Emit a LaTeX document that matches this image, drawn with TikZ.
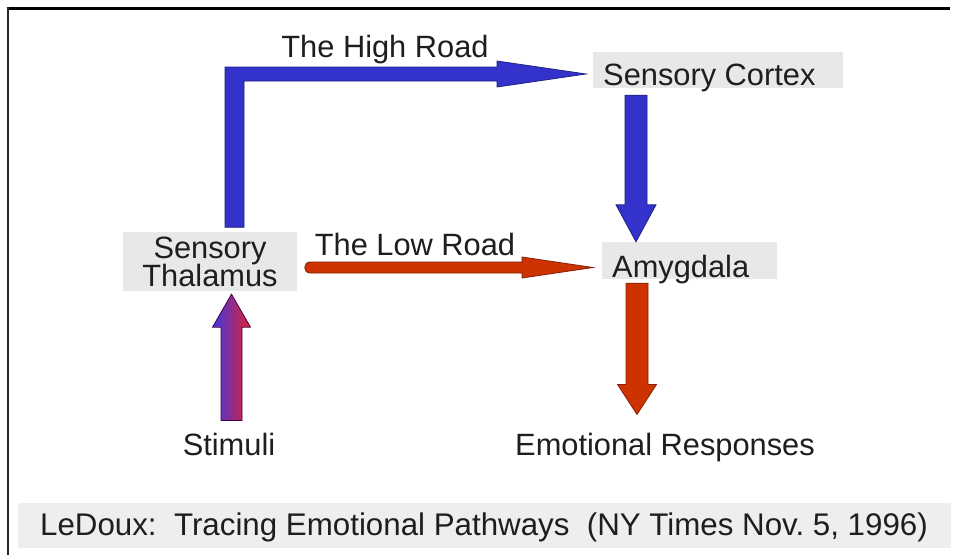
\documentclass[tikz,border=0pt]{standalone}
\usepackage{fontspec}
\setmainfont{Liberation Sans}
\usetikzlibrary{calc}

\definecolor{roadblue}{HTML}{3333CC}
\definecolor{roadred}{HTML}{CC3300}
\definecolor{boxgrey}{HTML}{E8E8E8}
\definecolor{footgrey}{HTML}{EEEEEE}
\definecolor{ink}{HTML}{1E1E1E}
\definecolor{stimblue}{HTML}{3A3AE6}
\definecolor{stimred}{HTML}{E6202E}

% Block arrow: #1 style, #2 tail, #3 tip, #4 shaft half-width, #5 head half-width, #6 head length
\newcommand\fatarrow[6]{%
  \coordinate (fa-hb) at ($(#3)!#6!(#2)$);
  \path[#1] ($(#2)!#4!90:(#3)$) -- ($(fa-hb)!#4!-90:(#2)$) -- ($(fa-hb)!#5!-90:(#2)$)
    -- (#3) -- ($(fa-hb)!#5!90:(#2)$) -- ($(fa-hb)!#4!90:(#2)$) -- ($(#2)!#4!-90:(#3)$) -- cycle;
}

\tikzset{
  lbl/.style={font=\fontsize{30.8}{36}\selectfont, text=ink, inner sep=0pt},
  greybox/.style={fill=boxgrey},
  bluearrow/.style={fill=roadblue, draw=roadblue!65!black, line width=0.8pt, line join=miter},
  redarrow/.style={fill=roadred, draw=roadred!65!black, line width=0.8pt, line join=miter},
  stimarrow/.style={left color=stimblue, right color=stimred, draw=black!45!violet, line width=0.8pt, line join=miter}
}

\begin{document}
\begin{tikzpicture}[x=1pt, y=-1pt]
  \useasboundingbox (0,0) rectangle (955,555);
  \fill[white] (0,0) rectangle (955,555);

  % frame edges
  \draw[line width=3pt, black] (6.5,8.5) -- (950,8.5);
  \draw[line width=2pt, black!85] (7.5,7) -- (7.5,555);

  % boxes and labels
  \node[lbl, greybox, align=center, minimum width=174pt, minimum height=59pt,
        font={\fontsize{30.8}{28}\selectfont\lineskiplimit=-20pt}] (thal) at (210,261.5) {Sensory\\Thalamus};
  \node[lbl, greybox, anchor=base west, text height=33pt, text depth=3pt, inner xsep=10pt]
        (cortex) at (593,85) {\makebox[230pt][l]{Sensory Cortex}};
  \node[lbl, greybox, anchor=base west, text height=35pt, text depth=2pt, inner xsep=10pt]
        (amyg) at (602,277) {\makebox[155pt][l]{Amygdala}};
  \node[lbl, anchor=base] (stim) at (229,455) {Stimuli};
  \node[lbl, anchor=base west] (emo) at (515,455) {Emotional Responses};
  \node[lbl, anchor=base] (high) at (385,57) {The High Road};
  \node[lbl, anchor=base] (low) at (415,255) {The Low Road};
  \node[lbl, fill=footgrey, font=\fontsize{31.3}{36}\selectfont, anchor=base, minimum width=933pt,
        text height=32pt, text depth=13pt] (foot) at (484,535)
        {LeDoux:\ \ Tracing Emotional Pathways\ \ (NY Times Nov.\ 5, 1996)};

  % the high road: thalamus up and across to the cortex
  \coordinate (hrTail) at ($(thal.north)+(24.5,-4.5)$);
  \coordinate (hrTip) at ($(cortex.west)+(-7,4)$);
  \path[bluearrow] ($(hrTail)+(-9.5,0)$) -- ($(hrTail|-hrTip)+(-9.5,-7)$) -- ($(hrTip)+(-89,-7)$)
    -- ($(hrTip)+(-89,-13)$) -- (hrTip) -- ($(hrTip)+(-89,13)$) -- ($(hrTip)+(-89,7)$)
    -- ($(hrTail|-hrTip)+(9.5,7)$) -- ($(hrTail)+(9.5,0)$) -- cycle;

  % cortex down to amygdala
  \coordinate (caTail) at ($(cortex.south west)+(43,7)$);
  \coordinate (caTip) at ($(amyg.north west)+(34,0)$);
  \fatarrow{bluearrow}{caTail}{caTip}{11pt}{20pt}{37pt}

  % the low road: thalamus straight to amygdala
  \coordinate (lrTail) at ($(thal.east)+(13,6)$);
  \coordinate (lrTip) at ($(amyg.west)+(-9,7)$);
  \path[redarrow] ($(lrTail)+(0,-5.5)$) -- ($(lrTip)+(-71,-5.5)$) -- ($(lrTip)+(-71,-10.5)$)
    -- (lrTip) -- ($(lrTip)+(-71,10.5)$) -- ($(lrTip)+(-71,5.5)$) -- ($(lrTail)+(0,5.5)$)
    .. controls ($(lrTail)+(-7.3,5.5)$) and ($(lrTail)+(-7.3,-5.5)$) .. ($(lrTail)+(0,-5.5)$) -- cycle;

  % amygdala down to responses
  \coordinate (aeTail) at ($(amyg.south west)+(35,4)$);
  \coordinate (aeTip) at ($(emo.north west)+(122,-18)$);
  \fatarrow{redarrow}{aeTail}{aeTip}{11pt}{19.5pt}{30pt}

  % stimuli up to thalamus
  \coordinate (stTail) at ($(stim.north)+(2.5,-12)$);
  \coordinate (stTip) at ($(thal.south)+(21.5,3)$);
  \fatarrow{stimarrow}{stTail}{stTip}{10.5pt}{19pt}{33pt}
\end{tikzpicture}
\end{document}
